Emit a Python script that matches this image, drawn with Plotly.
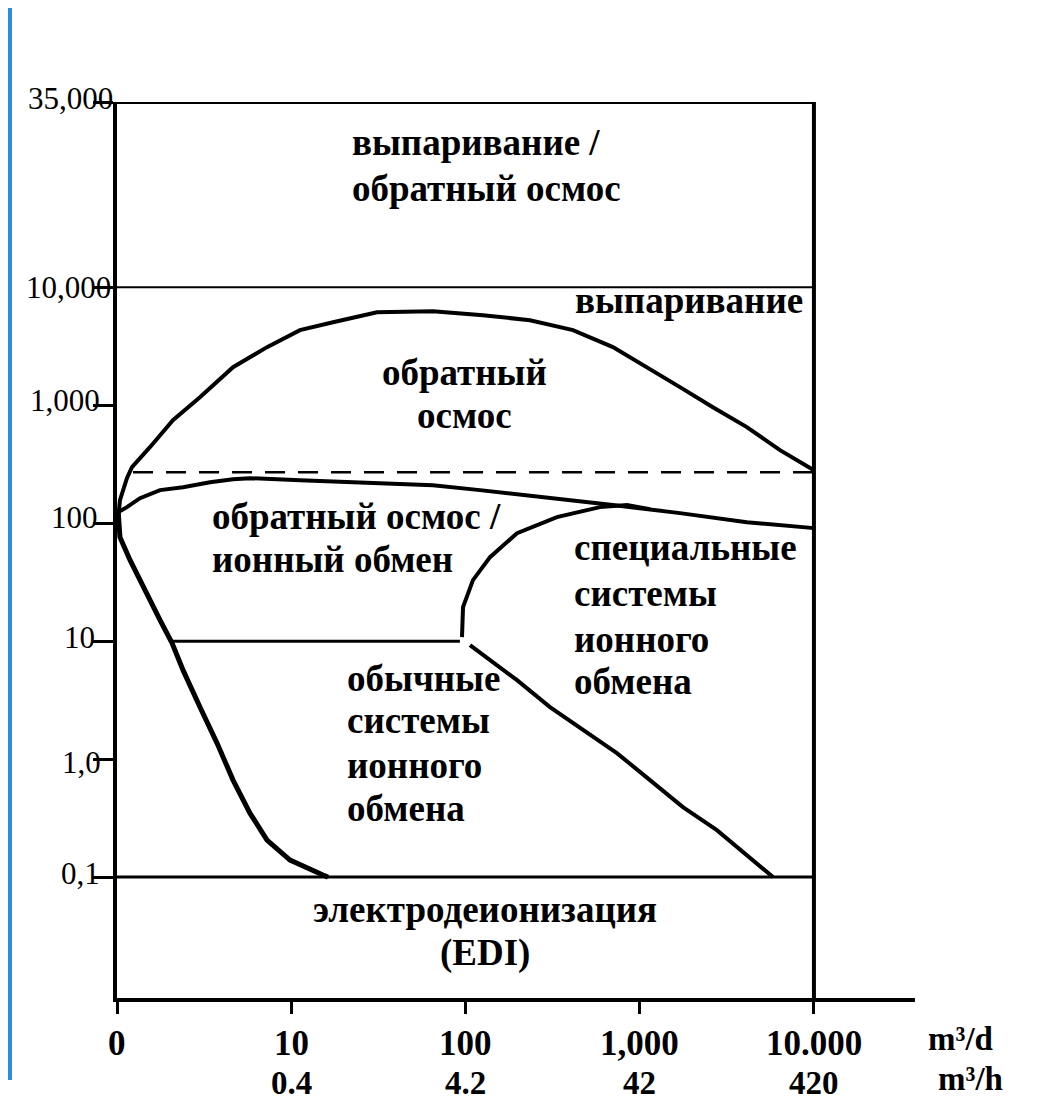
import plotly.graph_objects as go

# ---------------- data (log10 of flow in m3/d, log10 of TDS in mg/l) ----------------
# upper boundary of reverse osmosis region
ro_upper_logq = [0.0, 0.017, 0.057, 0.086, 0.189, 0.321, 0.476, 0.666, 0.861, 1.050, 1.240,
                 1.492, 1.813, 2.100, 2.370, 2.617, 2.846, 3.042, 3.231, 3.420, 3.615, 3.805, 4.0]
ro_upper_logc = [1.941, 2.195, 2.381, 2.475, 2.644, 2.873, 3.068, 3.322, 3.492, 3.636, 3.703,
                 3.788, 3.797, 3.763, 3.720, 3.636, 3.492, 3.322, 3.153, 2.983, 2.814, 2.619, 2.449]

# boundary between RO and RO / ion exchange
ro_ix_logq = [0.006, 0.057, 0.132, 0.247, 0.379, 0.534, 0.666, 0.763, 1.050, 1.435, 1.813,
              2.083, 2.468, 2.846, 3.231, 3.615, 4.0]
ro_ix_logc = [2.093, 2.136, 2.212, 2.280, 2.305, 2.347, 2.373, 2.381, 2.364, 2.339, 2.322,
              2.280, 2.220, 2.153, 2.085, 2.008, 1.958]

# steep left boundary of conventional ion exchange
left_logq = [0.006, 0.017, 0.075, 0.149, 0.247, 0.316, 0.379, 0.476, 0.574, 0.666, 0.763,
             0.861, 0.993, 1.182, 1.211]
left_logc = [2.110, 1.881, 1.686, 1.458, 1.178, 0.983, 0.754, 0.441, 0.136, -0.178, -0.458,
             -0.686, -0.856, -0.983, -1.0]

# 10 mg/l boundary line
ten_logq = [0.304, 1.968]
ten_logc = [1.0, 1.0]

# special ion-exchange systems (upper arc)
special_logq = [1.980, 1.986, 2.043, 2.141, 2.296, 2.525, 2.772, 2.927, 3.059]
special_logc = [1.034, 1.288, 1.517, 1.712, 1.915, 2.051, 2.136, 2.153, 2.119]

# special ion-exchange systems (lower diagonal)
diag_logq = [2.026, 2.296, 2.485, 2.674, 2.869, 3.059, 3.248, 3.443, 3.633, 3.765]
diag_logc = [0.966, 0.669, 0.441, 0.246, 0.051, -0.178, -0.407, -0.602, -0.831, -1.0]

# dashed line (~270 mg/l)
dash_logq = [0.092, 4.0]
dash_logc = [2.432, 2.432]

# frame levels
top_level = 5.57          # 35,000
evap_level = 4.0          # 10,000
edi_level = -1.0          # 0,1
x_max_level = 4.0         # 10.000 m3/d
y_axis_min, y_axis_max = -2.025, 5.57
x_axis_min, x_axis_max = 0.0, 4.58

y_tick_levels = [5.57, 4, 3, 2, 1, 0, -1]
y_tick_labels = ["35,000", "10,000", "1,000", "100", "10", "1,0", "0,1"]

x_tick_levels = [0, 1, 2, 3, 4]
x_tick_labels_d = ["0", "10", "100", "1,000", "10.000"]
x_tick_labels_h = ["", "0.4", "4.2", "42", "420"]
x_unit_labels = ["m³/d", "m³/h"]

# region labels: text line, x level, y level, anchor
region_lines = [
    ("выпаривание /", 1.337, 5.224, "left"),
    ("обратный осмос", 1.337, 4.836, "left"),
    ("выпаривание", 3.948, 3.885, "right"),
    ("обратный", 1.997, 3.274, "center"),
    ("осмос", 1.997, 2.913, "center"),
    ("обратный осмос /", 0.534, 2.060, "left"),
    ("ионный обмен", 0.534, 1.695, "left"),
    ("специальные", 2.611, 1.790, "left"),
    ("системы", 2.611, 1.400, "left"),
    ("ионного", 2.611, 1.018, "left"),
    ("обмена", 2.611, 0.654, "left"),
    ("обычные", 1.308, 0.686, "left"),
    ("системы", 1.308, 0.330, "left"),
    ("ионного", 1.308, -0.051, "left"),
    ("обмена", 1.308, -0.415, "left"),
    ("электродеионизация", 2.112, -1.275, "center"),
    ("(EDI)", 2.112, -1.645, "center"),
]

# ---------------- figure ----------------
SERIF = "Liberation Serif"
fig = go.Figure()

def add_line(xs, ys, w=4, dash="solid"):
    fig.add_trace(go.Scatter(x=xs, y=ys, mode="lines",
                             line=dict(color="black", width=w, dash=dash),
                             hoverinfo="skip", showlegend=False, cliponaxis=False))

add_line(ro_upper_logq, ro_upper_logc, 4)
add_line(ro_ix_logq, ro_ix_logc, 4)
add_line(left_logq, left_logc, 5)
add_line(ten_logq, ten_logc, 3)
add_line(special_logq, special_logc, 4)
add_line(diag_logq, diag_logc, 4)
add_line(dash_logq, dash_logc, 2.5, dash="20px,13px")

# frame lines
shapes = [
    dict(type="line", x0=0, x1=x_max_level, y0=top_level, y1=top_level, line=dict(color="black", width=4)),
    dict(type="line", x0=x_max_level, x1=x_max_level, y0=y_axis_min, y1=top_level, line=dict(color="black", width=4)),
    dict(type="line", x0=0, x1=x_max_level, y0=evap_level, y1=evap_level, line=dict(color="black", width=2)),
    dict(type="line", x0=0, x1=x_max_level, y0=edi_level, y1=edi_level, line=dict(color="black", width=3)),
]
for s in shapes:
    s.update(xref="x", yref="y", layer="above")

# background decoration (blue strip of the slide at the left edge)
shapes.append(dict(type="rect", xref="paper", yref="paper", x0=-0.1366, x1=-0.1316,
                   y0=-0.0915, y1=1.105, fillcolor="#2a8ee0", line=dict(width=0), layer="below"))

annotations = []
# y tick labels
y_xshift = [-2, -4, -15, -17, -20, -14, -15]
y_yshift = [4, 0, 5, 6, 4, -3, 4]
for lv, lab, xs, ys in zip(y_tick_levels, y_tick_labels, y_xshift, y_yshift):
    annotations.append(dict(x=0, y=lv, xref="x", yref="y", text=lab, showarrow=False,
                            xanchor="right", yanchor="middle", xshift=xs, yshift=ys,
                            font=dict(family=SERIF, size=31, color="black")))
# x tick labels
for lv, lab in zip(x_tick_levels, x_tick_labels_d):
    annotations.append(dict(x=lv, y=-0.0513, xref="x", yref="paper", text="<b>%s</b>" % lab,
                            showarrow=False, xanchor="center", yanchor="middle",
                            font=dict(family=SERIF, size=35, color="black")))
for lv, lab in zip(x_tick_levels, x_tick_labels_h):
    if lab:
        annotations.append(dict(x=lv, y=-0.0949, xref="x", yref="paper",
                                text="<b>%s</b>" % lab, showarrow=False, xanchor="center",
                                yanchor="middle", font=dict(family=SERIF, size=33, color="black")))
annotations.append(dict(x=1.0564, y=-0.0458, xref="paper", yref="paper", text="<b>%s</b>" % x_unit_labels[0],
                        showarrow=False, xanchor="center", yanchor="middle",
                        font=dict(family=SERIF, size=33, color="black")))
annotations.append(dict(x=1.069, y=-0.0904, xref="paper", yref="paper", text="<b>%s</b>" % x_unit_labels[1],
                        showarrow=False, xanchor="center", yanchor="middle",
                        font=dict(family=SERIF, size=33, color="black")))

# region labels
for txt, x, y, xa in region_lines:
    annotations.append(dict(x=x, y=y, xref="x", yref="y", text="<b>%s</b>" % txt, showarrow=False,
                            xanchor=xa, yanchor="middle",
                            font=dict(family=SERIF, size=37, color="black")))

# the page adds an 8 px body margin, so the figure is offset by 8 px
fig.update_layout(
    width=1030, height=1094,
    margin=dict(l=109, r=123, t=94, b=104, pad=0),
    paper_bgcolor="white", plot_bgcolor="white",
    shapes=shapes, annotations=annotations, showlegend=False,
    xaxis=dict(range=[x_axis_min, x_axis_max], showgrid=False, zeroline=False,
               showline=True, linecolor="black", linewidth=4,
               tickmode="array", tickvals=x_tick_levels, ticks="outside", ticklen=12,
               tickwidth=3, tickcolor="black", showticklabels=False, fixedrange=True),
    yaxis=dict(range=[y_axis_min, y_axis_max], showgrid=False, zeroline=False,
               showline=True, linecolor="black", linewidth=4,
               tickmode="array", tickvals=y_tick_levels, ticks="outside", ticklen=20,
               tickwidth=3, tickcolor="black", showticklabels=False, fixedrange=True),
)

fig.write_html("out.html")
